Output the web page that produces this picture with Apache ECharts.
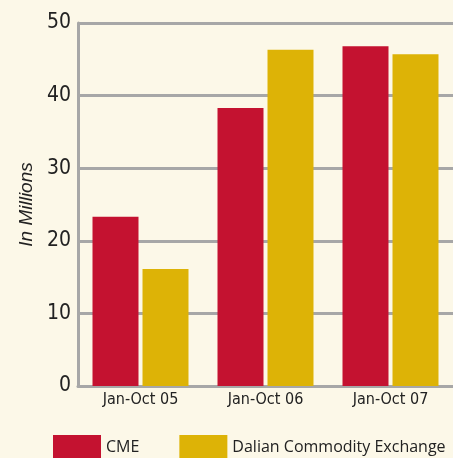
<!DOCTYPE html>
<html><head><meta charset="utf-8">
<script src="https://cdn.jsdelivr.net/npm/echarts@6/dist/echarts.min.js"></script>
<style>html,body{margin:0;padding:0;background:#FCF8E8;}#c{width:453px;height:458px;}</style>
</head><body><div id="c"></div>
<script>
const categories = ['Jan-Oct 05', 'Jan-Oct 06', 'Jan-Oct 07'];
const cme = [23.3, 38.3, 46.8];
const dalian = [16.1, 46.3, 45.7];
const seriesNames = ['CME', 'Dalian Commodity Exchange'];

const narrow = '"DejaVu Sans Condensed", "Liberation Sans", sans-serif';
const chart = echarts.init(document.getElementById('c'));
chart.setOption({
  backgroundColor: '#FCF8E8',
  animation: false,
  grid: {left: 78, right: 0, top: 23, bottom: 72},
  legend: {
    left: 48, top: 430, itemWidth: 48, itemHeight: 24, itemGap: 40,
    icon: 'rect',
    textStyle: {fontFamily: 'Open Sans', fontSize: 16, color: '#222'},
    data: seriesNames
  },
  xAxis: {
    type: 'category', data: categories,
    axisLine: {lineStyle: {color: '#A7A7A7', width: 3}},
    axisTick: {show: false},
    axisLabel: {fontFamily: narrow, fontSize: 16, color: '#222', margin: 6}
  },
  yAxis: {
    type: 'value', min: 0, max: 50, interval: 10,
    name: 'In Millions', nameLocation: 'middle', nameGap: 40,
    nameTextStyle: {fontFamily: 'Liberation Sans', fontStyle: 'italic', fontSize: 19, color: '#222'},
    axisLine: {show: true, lineStyle: {color: '#A7A7A7', width: 3}},
    axisTick: {show: false},
    axisLabel: {fontFamily: narrow, fontSize: 21, color: '#222', margin: 7},
    splitLine: {lineStyle: {color: '#A7A7A7', width: 3}}
  },
  series: [
    {name: seriesNames[0], type: 'bar', data: cme, barWidth: 46, barGap: '8.7%', itemStyle: {color: '#C41230'}},
    {name: seriesNames[1], type: 'bar', data: dalian, barWidth: 46, itemStyle: {color: '#DDB306'}}
  ]
});
</script></body></html>
